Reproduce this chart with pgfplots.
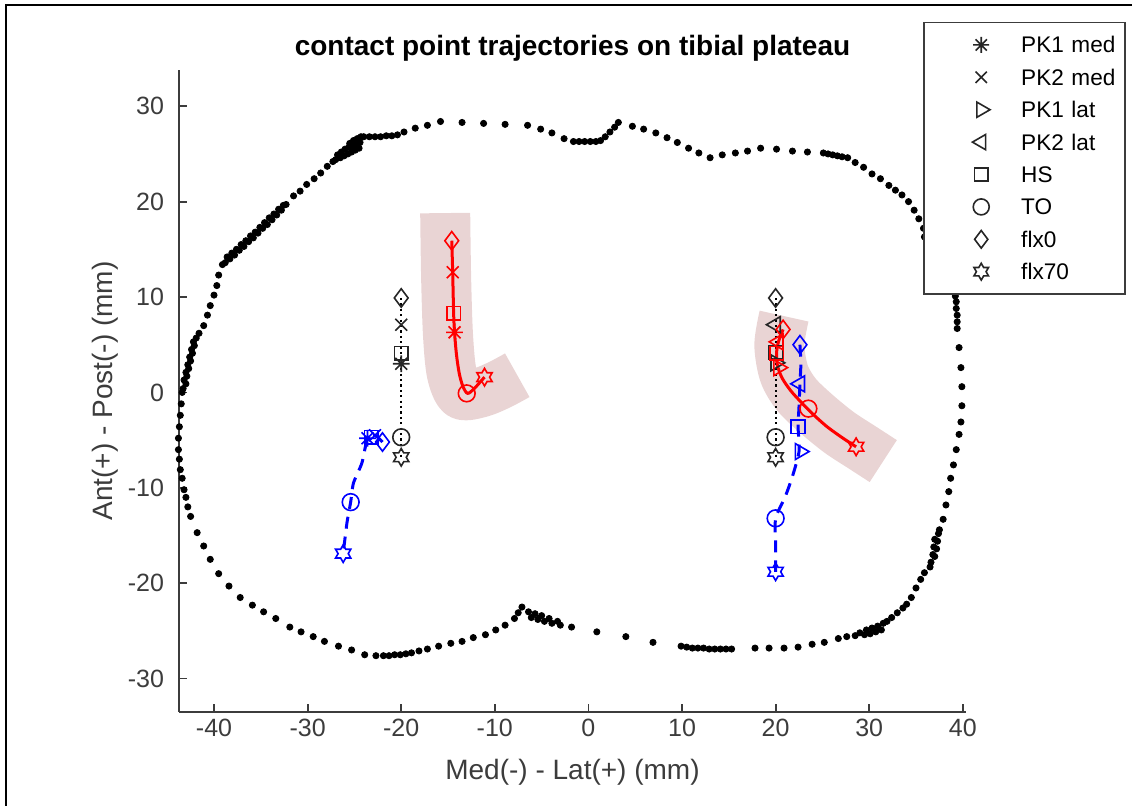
\documentclass[border=0pt]{standalone}
\usepackage{fontspec}
\setmainfont{Liberation Sans}
\usepackage{pgfplots}
\pgfplotsset{compat=1.18}
\usetikzlibrary{plotmarks}
\definecolor{bandc}{RGB}{233,212,212}
\definecolor{axc}{RGB}{60,60,60}
\pgfdeclareplotmark{hexagram}{%
  \pgfpathmoveto{\pgfqpointpolar{90}{\pgfplotmarksize}}%
  \pgfpathlineto{\pgfqpointpolar{120}{0.577\pgfplotmarksize}}%
  \pgfpathlineto{\pgfqpointpolar{150}{\pgfplotmarksize}}%
  \pgfpathlineto{\pgfqpointpolar{180}{0.577\pgfplotmarksize}}%
  \pgfpathlineto{\pgfqpointpolar{210}{\pgfplotmarksize}}%
  \pgfpathlineto{\pgfqpointpolar{240}{0.577\pgfplotmarksize}}%
  \pgfpathlineto{\pgfqpointpolar{270}{\pgfplotmarksize}}%
  \pgfpathlineto{\pgfqpointpolar{300}{0.577\pgfplotmarksize}}%
  \pgfpathlineto{\pgfqpointpolar{330}{\pgfplotmarksize}}%
  \pgfpathlineto{\pgfqpointpolar{0}{0.577\pgfplotmarksize}}%
  \pgfpathlineto{\pgfqpointpolar{30}{\pgfplotmarksize}}%
  \pgfpathlineto{\pgfqpointpolar{60}{0.577\pgfplotmarksize}}%
  \pgfpathclose
  \pgfusepathqstroke}
\pgfdeclareplotmark{masterisk}{%
  \pgfpathmoveto{\pgfqpoint{-\pgfplotmarksize}{0pt}}\pgfpathlineto{\pgfqpoint{\pgfplotmarksize}{0pt}}%
  \pgfpathmoveto{\pgfqpoint{0pt}{-\pgfplotmarksize}}\pgfpathlineto{\pgfqpoint{0pt}{\pgfplotmarksize}}%
  \pgfpathmoveto{\pgfqpoint{-0.707\pgfplotmarksize}{-0.707\pgfplotmarksize}}\pgfpathlineto{\pgfqpoint{0.707\pgfplotmarksize}{0.707\pgfplotmarksize}}%
  \pgfpathmoveto{\pgfqpoint{-0.707\pgfplotmarksize}{0.707\pgfplotmarksize}}\pgfpathlineto{\pgfqpoint{0.707\pgfplotmarksize}{-0.707\pgfplotmarksize}}%
  \pgfusepathqstroke}
\pgfplotsset{
  mk/.style={forget plot, only marks, mark options={solid, line width=0.8pt, fill=none}},
  mD/.style={mk, mark=diamond, mark size=4.6pt},
  mX/.style={mk, mark=x, mark size=4.2pt},
  mS/.style={mk, mark=square, mark size=3.4pt},
  mA/.style={mk, mark=masterisk, mark size=4.2pt},
  mC/.style={mk, mark=o, mark size=4.2pt},
  mH/.style={mk, mark=hexagram, mark size=4.4pt},
  mL/.style={mk, mark=triangle, mark size=4.6pt, mark options={solid, line width=0.8pt, fill=none, rotate=90}},
  mR/.style={mk, mark=triangle, mark size=4.6pt, mark options={solid, line width=0.8pt, fill=none, rotate=-90}},
  band/.style={forget plot, no markers, bandc, line width=25pt, line cap=butt, line join=round, smooth, tension=0.5},
  blk/.style={forget plot, no markers, black, line width=1.1pt, dash pattern=on 1.1pt off 1.6pt},
  redl/.style={forget plot, no markers, red, line width=1.5pt, smooth, tension=0.5},
  bluel/.style={forget plot, no markers, blue, line width=1.5pt, dash pattern=on 6pt off 4pt, smooth, tension=0.4},
}
\begin{document}
\begin{tikzpicture}
\path[use as bounding box] (0pt,0pt) rectangle (566pt,403pt);
\draw[line width=1pt] (3pt,0pt) -- (3pt,400.5pt) -- (566pt,400.5pt);
\begin{axis}[
  at={(89.5pt,47pt)}, anchor=south west,
  scale only axis, width=393.5pt, height=321pt,
  xmin=-43.74, xmax=40.34, ymin=-33.5, ymax=33.8,
  axis x line*=bottom, axis y line*=left,
  axis line style={axc, line width=0.9pt},
  xtick={-40,-30,...,40}, ytick={-30,-20,...,30},
  tick align=inside, major tick length=4pt, tick style={axc, line width=0.9pt},
  /pgf/number format/assume math mode=true,
  tick label style={font=\fontsize{12.5}{15}\selectfont, text=axc},
  yticklabel style={xshift=-4pt},
  xlabel={Med(-) - Lat(+) (mm)}, ylabel={Ant(+) - Post(-) (mm)},
  label style={font=\fontsize{14}{17}\selectfont, text=axc},
  xlabel style={at={(0.5,-0.0935)}, anchor=center},
  ylabel style={at={(-0.094,0.5)}, anchor=center},
  title={contact point trajectories on tibial plateau},
  title style={font=\bfseries\fontsize{14}{17}\selectfont, at={(0.5,1.0155)}, anchor=center, yshift=0pt},
  clip=false,
  legend cell align=left,
  legend style={at={(1.2033,1.0748)}, anchor=north east, draw=axc, line width=0.75pt, fill=white,
    font=\fontsize{11.3}{13}\selectfont, inner xsep=0pt, inner ysep=3pt, row sep=0pt,
    nodes={inner sep=0pt, text height=12.1pt, text depth=4.1pt, text width=52pt, align=left}},
  legend image code/.code={\path[draw=none,fill=none] (0pt,0pt) -- (48.5pt,0pt); \draw[#1] plot coordinates {(28.5pt,0pt)};},
]
\addlegendimage{only marks, black!85, mark=masterisk, mark size=4pt, mark options={line width=0.8pt}}
\addlegendimage{only marks, black!85, mark=x, mark size=4pt, mark options={line width=0.8pt}}
\addlegendimage{only marks, black!85, mark=triangle, mark size=4.4pt, mark options={line width=0.8pt, rotate=-90}}
\addlegendimage{only marks, black!85, mark=triangle, mark size=4.4pt, mark options={line width=0.8pt, rotate=90}}
\addlegendimage{only marks, black!85, mark=square, mark size=3.3pt, mark options={line width=0.8pt}}
\addlegendimage{only marks, black!85, mark=o, mark size=4pt, mark options={line width=0.8pt}}
\addlegendimage{only marks, black!85, mark=diamond, mark size=4.4pt, mark options={line width=0.8pt}}
\addlegendimage{only marks, black!85, mark=hexagram, mark size=4.2pt, mark options={line width=0.8pt}}
\legend{PK1 med, PK2 med, PK1 lat, PK2 lat, HS, TO, flx0, flx70}

% tibial plateau outline
\addplot[forget plot, only marks, mark=*, mark size=1.55pt, black] coordinates {
(-43.7,-7.0) (-43.8,-6.0) (-43.8,-4.8) (-43.7,-3.6) (-43.6,-2.4) (-43.5,-1.2) (-43.4,0.0)
(-43.3,0.4)(-43.0,0.9)(-43.2,1.3)(-42.9,1.7)(-43.0,2.1)(-42.7,2.5)(-42.8,2.9)(-42.5,3.3)(-42.6,3.7)(-42.3,4.1)(-42.4,4.5)(-42.1,4.9)(-42.2,5.3)(-41.9,5.7)(-41.6,6.2)
(-41.1,7.0)(-40.7,8.1)(-40.4,9.1)(-40.0,10.2)(-39.7,11.2)(-39.5,12.3)(-39.1,13.4)
(-38.8,13.6)(-38.6,14.2)(-38.3,14.0)(-38.1,14.6)(-37.8,14.4)(-37.6,15.0)(-37.3,14.9)(-37.1,15.5)(-36.8,15.3)(-36.6,15.9)(-36.3,15.8)(-36.1,16.4)(-35.8,16.2)(-35.6,16.8)(-35.3,16.7)(-35.1,17.3)(-34.8,17.2)(-34.6,17.8)(-34.3,17.6)(-34.1,18.3)(-33.8,18.1)(-33.6,18.7)(-33.3,18.6)(-33.1,19.2)(-32.8,19.1)(-32.6,19.6)(-32.3,19.7)
(-31.5,20.6)(-30.8,21.1)(-30.1,21.8)(-29.3,22.4)(-28.6,23.0)(-27.9,23.7)(-27.3,24.2)
(-27.0,24.4)(-26.8,24.9)(-26.5,24.6)(-26.4,25.2)(-26.1,24.8)(-26.0,25.5)(-25.7,25.0)(-25.6,25.7)(-25.5,26.1)(-25.3,25.2)(-25.2,25.8)(-25.1,26.4)(-24.9,25.4)(-24.8,26.0)(-24.7,26.6)(-24.5,25.6)(-24.4,26.2)(-24.3,26.8)
(-24.0,26.8)(-23.4,26.8)(-22.8,26.8)(-22.2,26.8)(-21.6,26.9)(-21.0,26.9)(-20.4,27.0)
(-19.7,27.3)(-18.5,27.7)(-17.2,28.0)(-15.8,28.4)(-13.5,28.3)(-11.2,28.2)(-8.9,28.1)(-6.5,28.0)(-5.1,27.6)(-3.9,27.2)(-2.6,26.6)
(-1.6,26.3)(-1.0,26.3)(-0.4,26.3)(0.2,26.3)(0.8,26.3)(1.3,26.4)
(1.8,26.8)(2.3,27.3)(2.8,27.8)(3.2,28.3)
(4.7,27.9)(5.9,27.6)(7.2,27.2)(8.4,26.7)(9.5,26.2)(10.7,25.6)(11.8,25.1)(13.0,24.6)(14.3,24.9)(15.7,25.1)(17.0,25.3)(18.4,25.6)(20.1,25.5)(21.8,25.3)(23.4,25.2)
(25.1,25.1)(25.6,25.0)(26.1,24.9)(26.6,24.8)(27.1,24.7)(27.7,24.6)
(28.5,24.1)(29.4,23.6)(30.3,22.9)(31.2,22.4)(32.1,21.7)(32.8,21.2)(33.5,20.7)(34.2,20.0)(34.8,19.1)(35.3,18.2)(35.8,17.2)(35.9,16.3)
(36.6,15.0)(37.4,13.5)(38.2,12.0)(38.9,10.8)
(39.2,10.1)(39.3,9.5)(39.3,8.8)(39.4,8.1)(39.4,7.4)(39.4,6.7)
(39.6,4.7)(39.8,2.6)(39.9,0.6)(39.9,-1.4)(39.8,-3.1)(39.6,-4.4)(39.3,-6.0)(39.0,-7.6)(38.7,-9.0)(38.5,-10.4)(38.2,-11.8)(37.9,-13.3)(37.5,-14.4)
(37.4,-14.8)(37.0,-15.4)(37.3,-15.6)(36.9,-16.2)(37.2,-16.4)(36.8,-17.0)(37.0,-17.2)(36.6,-17.8)(36.5,-18.3)
(35.9,-18.9)(35.5,-19.6)(35.0,-20.5)(34.5,-21.5)(34.0,-22.2)(33.6,-22.6)(33.0,-23.1)(32.4,-23.6)(31.9,-24.0)
(31.5,-24.2)(31.3,-24.9)(30.9,-24.5)(30.7,-25.1)(30.3,-24.7)(30.1,-25.3)(29.7,-24.9)(29.5,-25.4)(29.0,-25.2)(28.5,-25.5)
(27.6,-25.6)(26.7,-25.8)(25.2,-26.2)(23.9,-26.4)(22.4,-26.7)(20.9,-26.8)(19.3,-26.8)(17.8,-26.8)
(15.3,-26.9)(14.7,-26.9)(14.1,-26.9)(13.5,-26.9)(12.9,-26.9)(12.3,-26.8)(11.7,-26.8)(11.1,-26.8)(10.5,-26.7)(9.9,-26.6)
(6.9,-26.2)(4.0,-25.6)(0.9,-25.1)
(-1.8,-24.6)(-3.0,-24.4)(-3.3,-24.0)(-3.9,-24.2)(-4.2,-23.7)(-4.7,-24.0)(-5.0,-23.4)(-5.4,-23.8)(-5.7,-23.2)(-6.1,-23.6)(-6.4,-23.0)
(-7.1,-22.5)(-7.5,-23.1)
(-7.9,-23.7)(-8.9,-24.4)(-9.9,-24.9)(-11.0,-25.4)(-12.3,-25.7)(-13.5,-26.1)(-14.7,-26.3)(-16.0,-26.6)(-17.2,-26.9)(-18.1,-27.1)
(-18.9,-27.3)(-19.5,-27.4)(-20.1,-27.5)(-20.7,-27.5)(-21.3,-27.6)(-21.9,-27.6)(-22.7,-27.6)
(-23.9,-27.5)(-25.3,-27.0)(-26.7,-26.6)(-28.2,-26.1)(-29.4,-25.6)(-30.7,-25.1)(-31.9,-24.6)(-33.4,-23.7)(-34.7,-23.0)(-35.9,-22.3)(-37.2,-21.5)(-38.4,-20.3)(-39.5,-19.0)(-40.4,-17.5)(-41.1,-16.1)(-41.8,-14.7)(-42.5,-13.0)(-42.8,-12.0)(-43.0,-11.0)(-43.2,-10.2)(-43.4,-9.0)(-43.6,-8.1)
};

% shaded bands
\addplot[band] coordinates {(-15.3,18.8) (-15.2,12.0) (-15.0,6.0) (-14.6,2.0) (-13.6,-0.2) (-11.5,0.0) (-9.5,0.8) (-7.6,1.8)};
\addplot[band] coordinates {(20.9,8.0) (20.4,5.0) (20.9,2.0) (22.2,-0.2) (24.3,-2.2) (26.8,-4.2) (29.3,-5.8) (31.5,-7.2)};

% black (dotted) trajectories
\addplot[blk] coordinates {(-20,9.9) (-20,-6.8)};
\addplot[blk] coordinates {(20,9.9) (20,-6.8)};
% red trajectories
\addplot[redl] coordinates {(-14.6,15.9) (-14.5,12.6) (-14.4,8.3) (-14.3,6.3) (-14.1,4.0) (-13.8,2.0) (-13.4,0.6) (-12.9,-0.1) (-12.2,0.4) (-11.1,1.6)};
\addplot[redl] coordinates {(20.8,6.6) (20.3,5.3) (20.1,4.1) (20.2,2.8) (20.7,1.5) (21.6,0.2) (22.7,-1.0) (23.9,-2.2) (25.5,-3.6) (27.2,-4.8) (28.6,-5.7)};
% blue trajectories
\addplot[bluel] coordinates {(-22.0,-5.2) (-22.8,-4.5) (-23.6,-4.8) (-24.2,-7.4) (-25.1,-9.5) (-25.4,-11.5) (-25.8,-13.7) (-26.2,-16.9)};
\addplot[bluel] coordinates {(22.6,5.0) (22.7,3.0) (22.6,0.9) (22.5,-1.5) (22.4,-3.6) (22.5,-6.2) (21.8,-8.8) (21.0,-11.0) (20.0,-13.2) (20.0,-16.0) (20.0,-18.8)};

% black markers
\addplot[mD, black!85] coordinates {(-20,9.9) (20,9.9)};
\addplot[mX, black!85] coordinates {(-20,7.1)};
\addplot[mL, black!85] coordinates {(20,7.1)};
\addplot[mS, black!85] coordinates {(-20,4.1) (20,4.2)};
\addplot[mA, black!85] coordinates {(-20,3.0)};
\addplot[mR, black!85] coordinates {(20,3.1)};
\addplot[mC, black!85] coordinates {(-20,-4.7) (20,-4.7)};
\addplot[mH, black!85] coordinates {(-20,-6.8) (20,-6.8)};
% red markers
\addplot[mD, red] coordinates {(-14.6,15.9) (20.8,6.6)};
\addplot[mX, red] coordinates {(-14.5,12.6)};
\addplot[mS, red] coordinates {(-14.4,8.3) (20.1,4.1)};
\addplot[mA, red] coordinates {(-14.3,6.3)};
\addplot[mL, red] coordinates {(20.3,5.3)};
\addplot[mR, red] coordinates {(20.3,2.6)};
\addplot[mC, red] coordinates {(-13.0,-0.1) (23.5,-1.7)};
\addplot[mH, red] coordinates {(-11.1,1.6) (28.6,-5.7)};
% blue markers
\addplot[mD, blue] coordinates {(-22.0,-5.2) (22.6,5.0)};
\addplot[mX, blue] coordinates {(-22.8,-4.5)};
\addplot[mS, blue] coordinates {(-23.2,-4.7) (22.4,-3.6)};
\addplot[mA, blue] coordinates {(-23.6,-4.8)};
\addplot[mL, blue] coordinates {(22.6,0.9)};
\addplot[mR, blue] coordinates {(22.6,-6.2)};
\addplot[mC, blue] coordinates {(-25.4,-11.5) (20.0,-13.2)};
\addplot[mH, blue] coordinates {(-26.2,-16.9) (20.0,-18.8)};
\end{axis}
\end{tikzpicture}
\end{document}
